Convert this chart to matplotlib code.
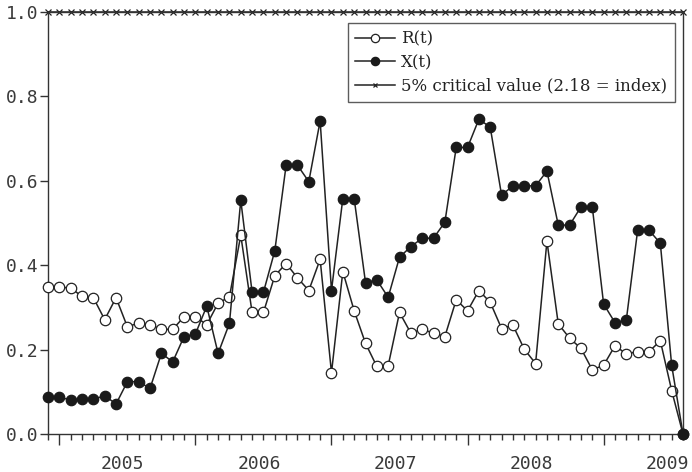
import matplotlib
matplotlib.use("Agg")
import matplotlib.pyplot as plt
import numpy as np
from matplotlib.ticker import FixedLocator, MultipleLocator, NullFormatter

# Monthly observations Dec 2004 .. Aug 2009 (index 0 = Dec 2004)
r_t = [0.348, 0.348, 0.346, 0.326, 0.323, 0.271, 0.323, 0.254, 0.263, 0.259,
       0.248, 0.248, 0.278, 0.278, 0.259, 0.310, 0.325, 0.471, 0.288, 0.288,
       0.375, 0.404, 0.370, 0.340, 0.414, 0.145, 0.385, 0.292, 0.215, 0.160,
       0.162, 0.288, 0.239, 0.248, 0.239, 0.231, 0.318, 0.292, 0.340, 0.312,
       0.250, 0.258, 0.201, 0.167, 0.457, 0.261, 0.227, 0.203, 0.152, 0.163,
       0.209, 0.190, 0.195, 0.195, 0.221, 0.103, 0.0]
x_t = [0.087, 0.087, 0.081, 0.082, 0.082, 0.091, 0.071, 0.124, 0.124, 0.108,
       0.191, 0.171, 0.231, 0.237, 0.303, 0.191, 0.262, 0.554, 0.336, 0.336,
       0.434, 0.637, 0.637, 0.598, 0.742, 0.340, 0.558, 0.558, 0.359, 0.365,
       0.324, 0.419, 0.444, 0.464, 0.464, 0.502, 0.679, 0.679, 0.746, 0.727,
       0.566, 0.588, 0.588, 0.588, 0.623, 0.495, 0.495, 0.538, 0.538, 0.308,
       0.264, 0.270, 0.483, 0.483, 0.452, 0.163, 0.0]
crit_value = 1.0
years = ["2005", "2006", "2007", "2008", "2009"]
y_ticks = [0.0, 0.2, 0.4, 0.6, 0.8, 1.0]

n = len(r_t)
t = np.arange(n)
crit = [crit_value] * n

fig = plt.figure(figsize=(6.92, 4.72), dpi=100)
ax = fig.add_axes([48 / 692, 1 - 434 / 472, (683 - 48) / 692, (434 - 12) / 472])

lw = 1.1
ax.plot(t, crit, color="#222222", lw=lw, marker="x", ms=4, mew=0.9,
        label="5% critical value (2.18 = index)", zorder=2, clip_on=False)
ax.plot(t, r_t, color="#222222", lw=lw, marker="o", ms=7.5, mfc="white",
        mec="#222222", mew=0.9, label="R(t)", zorder=3, clip_on=False)
ax.plot(t, x_t, color="#222222", lw=lw, marker="o", ms=7.5, mfc="#1a1a1a",
        mec="#1a1a1a", mew=0.9, label="X(t)", zorder=4, clip_on=False)

ax.set_xlim(0, n - 1)
ax.set_ylim(0, 1.0)

# x ticks: major at January, minor each month, year labels mid-year
jan_idx = [1 + 12 * k for k in range(len(years))]
ax.xaxis.set_major_locator(FixedLocator(jan_idx))
ax.xaxis.set_minor_locator(MultipleLocator(1))
ax.xaxis.set_major_formatter(NullFormatter())
ax.tick_params(axis="x", which="major", direction="out", length=8, width=1.0, color="#333333")
ax.tick_params(axis="x", which="minor", direction="out", length=4, width=1.0, color="#333333")
for i, yr in enumerate(years):
    ax.text(jan_idx[i] + 5.6, -0.05, yr, ha="center", va="top",
            family="DejaVu Sans Mono", fontsize=13, color="#3a3a3a",
            transform=ax.transData, clip_on=False)

ax.set_yticks(y_ticks)
ax.set_yticklabels([f"{v:.1f}" for v in y_ticks], family="DejaVu Sans Mono",
                   fontsize=13, color="#3a3a3a")
ax.tick_params(axis="y", which="major", direction="out", length=6, width=1.0,
               color="#333333", pad=1)

for s in ax.spines.values():
    s.set_color("#333333")
    s.set_linewidth(1.0)

handles, labels = ax.get_legend_handles_labels()
order = [1, 2, 0]
leg = ax.legend([handles[i] for i in order], [labels[i] for i in order],
                loc="upper right", bbox_to_anchor=(0.987, 0.974),
                borderaxespad=0.0,
                frameon=True, fancybox=False, edgecolor="#333333",
                prop={"family": "DejaVu Serif", "size": 12},
                handlelength=2.4, handletextpad=0.35, labelspacing=0.4,
                borderpad=0.45, markerscale=0.8)
leg.get_frame().set_linewidth(1.0)
for txt in leg.get_texts():
    txt.set_color("#222222")

fig.savefig("out.png", dpi=100)
